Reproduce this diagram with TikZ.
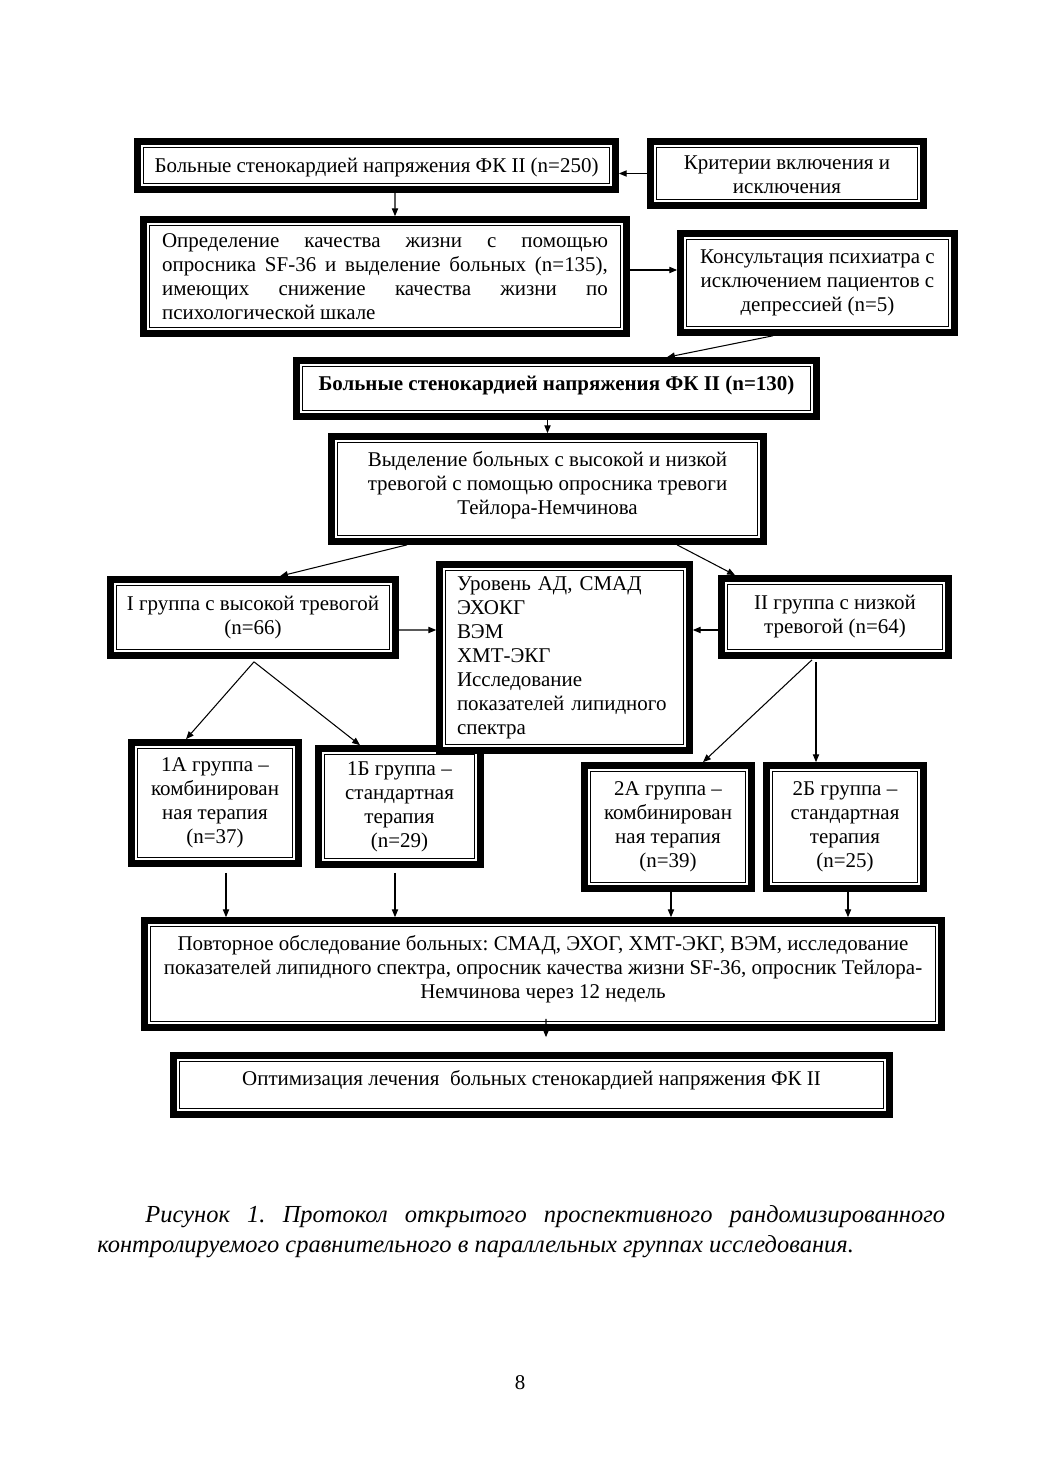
\documentclass[tikz,border=0pt]{standalone}
\usepackage{fontspec}
\setmainfont{Liberation Serif}
\usetikzlibrary{
    arrows.meta,
    calc
}
\frenchspacing
\tikzset{
    box/.style={draw, line width=3.8pt, fill=white, outer sep=1.9pt, inner sep=0pt,
        align=center, font=\fontsize{12}{13.7}\selectfont,
        path picture={\draw[line width=0.8pt]
            ([shift={(3.5pt,-3.5pt)}]path picture bounding box.north west) rectangle
            ([shift={(-3.5pt,3.5pt)}]path picture bounding box.south east);}},
    arr/.style={line width=0.6pt, -{Triangle[length=4.5pt,width=3.6pt]}}
}
\newcommand{\lifted}[2]{\raisebox{#1}[\height][\depth]{\begin{tabular}{@{}c@{}}#2\end{tabular}}}

\begin{document}
\begin{tikzpicture}[x=0.5721pt, y=-0.5721pt]
    \useasboundingbox (0,0) rectangle (1040,1473);
    % boxes
    \node[box, minimum width=273.5pt, minimum height=27.5pt] (b1) at (376.5,165.5)
        {\lifted{-1.5pt}{Больные стенокардией напряжения ФК II (n=250)}};
    \node[box, minimum width=156.2pt, minimum height=36.6pt] (krit) at (787,173.5)
        {\lifted{-2pt}{Критерии включения и\\исключения}};
    \node[box, minimum width=276.3pt, minimum height=65.2pt, text width=255.1pt, align=justify] (b2) at (385,276.5)
        {Определение качества жизни с помощью\linebreak опросника SF-36 и выделение больных (n=135),\linebreak имеющих снижение качества жизни по\linebreak психологической шкале};
    \node[box, minimum width=156.8pt, minimum height=56.6pt] (konsult) at (817.5,283) {Консультация психиатра с\\исключением пациентов с\\депрессией (n=5)};
    \node[box, minimum width=297.5pt, minimum height=32pt, font=\fontsize{12}{13.7}\selectfont\bfseries] (b3) at (556.5,388.5)
        {\lifted{1.5pt}{Больные стенокардией напряжения ФК II (n=130)}};
    \node[box, minimum width=247.1pt, minimum height=60.1pt] (b4) at (547.5,489)
        {\lifted{2pt}{Выделение больных с высокой и низкой\\тревогой с помощью опросника тревоги\\Тейлора-Немчинова}};
    \node[box, minimum width=163pt, minimum height=43.5pt] (g1) at (253,617.5) {I группа с высокой тревогой\\(n=66)};
    \node[box, minimum width=129.9pt, minimum height=44.1pt] (g2) at (835,617) {II группа с низкой\\тревогой (n=64)};
    \node[box, minimum width=95.5pt, minimum height=69.2pt] (g1a) at (215,803) {1А группа –\\комбинирован\\ная терапия\\(n=37)};
    \node[box, minimum width=92.7pt, minimum height=66.4pt] (g1b) at (399.5,806.5) {1Б группа –\\стандартная\\терапия\\(n=29)};
    \node[box, minimum width=95.5pt, minimum height=70.4pt] (g2a) at (668,827) {2А группа –\\комбинирован\\ная терапия\\(n=39)};
    \node[box, minimum width=89.8pt, minimum height=70.4pt] (g2b) at (845,827) {2Б группа –\\стандартная\\терапия\\(n=25)};
    \node[box, minimum width=143pt, minimum height=106.4pt, text width=123pt, align=left] (mid) at (564.5,657.5)
        {Уровень АД, СМАД\\ЭХОКГ\\ВЭМ\\ХМТ-ЭКГ\\Исследование\\показателей липидного\\спектра};
    \node[box, minimum width=456pt, minimum height=61.2pt] (rep) at (543,974)
        {\lifted{2.5pt}{Повторное обследование больных: СМАД, ЭХОГ, ХМТ-ЭКГ, ВЭМ, исследование\\показателей липидного спектра, опросник качества жизни SF-36, опросник Тейлора-\\Немчинова через 12 недель}};
    \node[box, minimum width=409.6pt, minimum height=33.8pt] (opt) at (531.5,1085)
        {\lifted{2.5pt}{Оптимизация лечения\ \ больных стенокардией напряжения ФК II}};
    % arrows
    \draw[arr] (krit.west) -- (krit.west -| b1.east);
    \draw[arr] ($(b1.south)+(18.5,0)$) -- ($(b2.north)+(10,0)$);
    \draw[arr] ($(b2.east)+(0,-6.5)$) -- ($(konsult.west)+(0,-13)$);
    \draw[arr] ($(konsult.south)+(-44.5,0)$) -- ($(b3.north)+(110.5,0)$);
    \draw[arr] (b4.north |- b3.south) -- (b4.north);
    \draw[arr] ($(b4.south)+(-140.5,0)$) -- ($(g1.north)+(27,0)$);
    \draw[arr] ($(b4.south)+(129.5,0)$) -- ($(g2.north)+(-100,0)$);
    \draw[arr] ($(g1.east)+(0,12.5)$) -- ($(mid.west)+(0,-27.5)$);
    \draw[arr] ($(g2.west)+(0,13)$) -- ($(mid.east)+(0,-27.5)$);
    \draw[arr] ($(g1.south)+(1,3)$) -- ($(g1a.north)+(-29,0)$);
    \draw[arr] ($(g1.south)+(1,3)$) -- ($(g1b.north)+(-39.5,0)$);
    \draw[arr] ($(g2.south)+(-23,1)$) -- ($(g2a.north)+(35,0)$);
    \draw[arr] ($(g2.south)+(-19,3)$) -- ($(g2b.north)+(-29,0)$);
    \draw[arr] ($(g1a.south)+(11,6)$) -- ($(rep.north)+(-317,0)$);
    \draw[arr] ($(g1b.south)+(-4.5,5)$) -- ($(rep.north)+(-148,0)$);
    \draw[arr] ($(g2a.south)+(3,0)$) -- ($(rep.north)+(128,0)$);
    \draw[arr] ($(g2b.south)+(3,0)$) -- ($(rep.north)+(305,0)$);
    \draw[arr] ($(rep.south)+(3,-12)$) -- ($(opt.north)+(14.5,-15)$);
    % caption and page number
    \node[anchor=north west, inner sep=0pt, text width=485pt, align=justify,
        font=\fontsize{14}{17.2}\selectfont\itshape] (caption) at (97,1205)
        {\hspace*{27.5pt}Рисунок 1. Протокол открытого проспективного рандомизированного\linebreak
        контролируемого сравнительного в параллельных группах исследования.};
    \node[font=\fontsize{12}{14}\selectfont] (pagenum) at (520,1383) {8};
\end{tikzpicture}
\end{document}
